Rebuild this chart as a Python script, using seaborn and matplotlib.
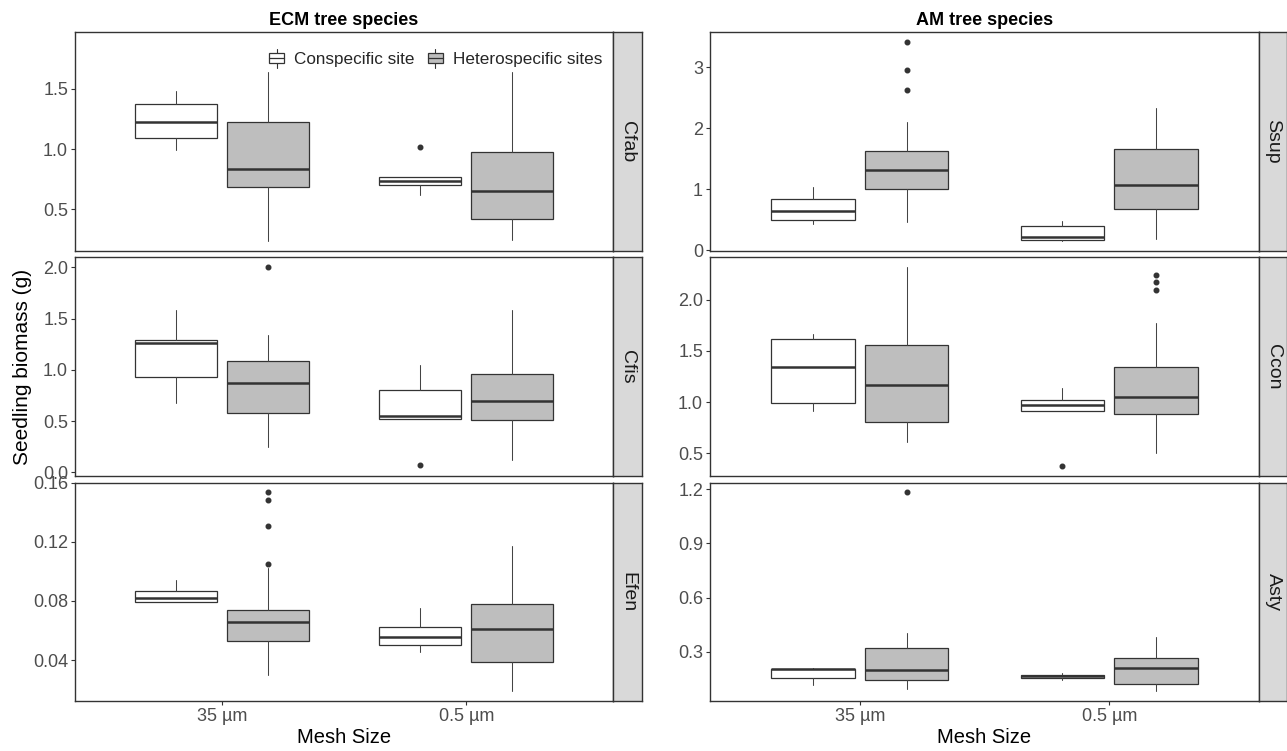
import numpy as np
import pandas as pd
import matplotlib
matplotlib.use("Agg")
import matplotlib.pyplot as plt
import seaborn as sns
from matplotlib.legend_handler import HandlerBase
from matplotlib.patches import Rectangle
from matplotlib.lines import Line2D

# ---------------- data ----------------
mesh_sizes = ["35 µm", "0.5 µm"]
site_types = ["Conspecific site", "Heterospecific sites"]
groups = ["ECM tree species", "AM tree species"]
species = [["Cfab", "Cfis", "Efen"], ["Ssup", "Ccon", "Asty"]]

# box order: Con 35, Het 35, Con 0.5, Het 0.5 ; (whislo, q1, median, q3, whishi)
cfab_stats = [(0.99, 1.095, 1.223, 1.373, 1.484), (0.238, 0.686, 0.833, 1.225, 1.643),
              (0.619, 0.702, 0.736, 0.769, 0.769), (0.243, 0.416, 0.652, 0.975, 1.643)]
cfab_fliers = [[], [], [1.017], []]
cfis_stats = [(0.676, 0.926, 1.259, 1.291, 1.586), (0.249, 0.583, 0.867, 1.084, 1.343),
              (0.521, 0.521, 0.547, 0.806, 1.049), (0.117, 0.515, 0.693, 0.964, 1.586)]
cfis_fliers = [[], [2.0], [0.068], []]
efen_stats = [(0.0793, 0.0793, 0.0823, 0.0866, 0.094), (0.0301, 0.0531, 0.0655, 0.0739, 0.1026),
              (0.0456, 0.0502, 0.0554, 0.0624, 0.0753), (0.019, 0.0384, 0.0608, 0.078, 0.1175)]
efen_fliers = [[], [0.1534, 0.1485, 0.1304, 0.1053], [], []]
ssup_stats = [(0.422, 0.494, 0.636, 0.845, 1.026), (0.455, 0.993, 1.311, 1.624, 2.101),
              (0.143, 0.165, 0.208, 0.389, 0.483), (0.187, 0.669, 1.064, 1.657, 2.326)]
ssup_fliers = [[], [3.417, 2.957, 2.622], [], []]
ccon_stats = [(0.909, 0.990, 1.338, 1.620, 1.662), (0.610, 0.805, 1.162, 1.555, 2.321),
              (0.912, 0.912, 0.971, 1.016, 1.140), (0.506, 0.886, 1.049, 1.341, 1.769)]
ccon_fliers = [[], [], [0.377], [2.240, 2.172, 2.091]]
asty_stats = [(0.119, 0.158, 0.204, 0.208, 0.213), (0.093, 0.143, 0.202, 0.322, 0.407),
              (0.147, 0.154, 0.167, 0.175, 0.186), (0.084, 0.125, 0.211, 0.267, 0.385)]
asty_fliers = [[], [1.182], [], []]

all_stats = {"Cfab": (cfab_stats, cfab_fliers), "Cfis": (cfis_stats, cfis_fliers),
             "Efen": (efen_stats, efen_fliers), "Ssup": (ssup_stats, ssup_fliers),
             "Ccon": (ccon_stats, ccon_fliers), "Asty": (asty_stats, asty_fliers)}

y_ticks = {"Cfab": [0.5, 1.0, 1.5], "Cfis": [0.0, 0.5, 1.0, 1.5, 2.0],
           "Efen": [0.04, 0.08, 0.12, 0.16], "Ssup": [0, 1, 2, 3],
           "Ccon": [0.5, 1.0, 1.5, 2.0], "Asty": [0.3, 0.6, 0.9, 1.2]}
y_fmt = {"Cfab": "{:.1f}", "Cfis": "{:.1f}", "Efen": "{:.2f}", "Ssup": "{:.0f}",
         "Ccon": "{:.1f}", "Asty": "{:.1f}"}
y_lims = {"Cfab": (0.154, 1.971), "Cfis": (-0.032, 2.097), "Efen": (0.0123, 0.160),
          "Ssup": (-0.011, 3.571), "Ccon": (0.282, 2.412), "Asty": (0.029, 1.235)}

# ---------------- style ----------------
sns.set_theme(style="white")
plt.rcParams["font.family"] = ["Liberation Sans", "DejaVu Sans"]

fill_colors = ["#FFFFFF", "#BEBEBE"]
line_col = "#333333"
tick_col = "#4D4D4D"

W, H = 1287, 751
fig = plt.figure(figsize=(W / 100, H / 100), dpi=100)

col_x = [(75, 613), (710, 1259)]
strip_w = [29, 28]
row_y = [(32.3, 250.7), (257.3, 475.7), (482.7, 701)]


def fx(px):
    return px / W


def fy(py):
    return 1 - py / H


class BoxKeyHandler(HandlerBase):
    def __init__(self, face):
        super().__init__()
        self.face = face

    def create_artists(self, legend, orig_handle, xdescent, ydescent, width, height, fontsize, trans):
        cx = width / 2 - xdescent
        bw = width * 0.85
        y0 = -ydescent
        rect = Rectangle((cx - bw / 2, y0 + height * 0.2), bw, height * 0.6,
                         facecolor=self.face, edgecolor=line_col, lw=0.9, transform=trans)
        med = Line2D([cx - bw / 2, cx + bw / 2], [y0 + height * 0.5] * 2, color=line_col, lw=0.9, transform=trans)
        w1 = Line2D([cx, cx], [y0 - height * 0.1, y0 + height * 0.2], color=line_col, lw=0.8, transform=trans)
        w2 = Line2D([cx, cx], [y0 + height * 0.8, y0 + height * 1.1], color=line_col, lw=0.8, transform=trans)
        return [w1, w2, rect, med]


offsets = [-0.1875, 0.1875]
box_w = 0.335
x_centers = [1, 2]

for ci, grp in enumerate(groups):
    x0, x1 = col_x[ci]
    for ri, sp in enumerate(species[ci]):
        y0, y1 = row_y[ri]
        ax = fig.add_axes([fx(x0), fy(y1), fx(x1 - x0), (y1 - y0) / H])
        stats, fliers = all_stats[sp]
        k = 0
        for mi, m in enumerate(mesh_sizes):
            for si, s in enumerate(site_types):
                wlo, q1, med, q3, whi = stats[k]
                st = [dict(whislo=wlo, q1=q1, med=med, q3=q3, whishi=whi, fliers=fliers[k])]
                ax.bxp(st, positions=[x_centers[mi] + offsets[si]], widths=box_w,
                       patch_artist=True, showcaps=False,
                       boxprops=dict(facecolor=fill_colors[si], edgecolor=line_col, lw=0.9),
                       whiskerprops=dict(color="#444444", lw=0.75),
                       medianprops=dict(color=line_col, lw=1.8),
                       flierprops=dict(marker="o", markersize=3.3, markerfacecolor=line_col,
                                       markeredgecolor=line_col, lw=0))
                k += 1
        ax.set_xlim(0.4, 2.6)
        ax.set_ylim(*y_lims[sp])
        ax.set_yticks(y_ticks[sp])
        ax.set_yticklabels([y_fmt[sp].format(v) for v in y_ticks[sp]])
        ax.set_xticks(x_centers)
        ax.set_facecolor("white")
        for spn in ax.spines.values():
            spn.set_color(line_col)
            spn.set_linewidth(1.0)
        ax.tick_params(axis="both", direction="out", length=3, width=0.8, color=line_col,
                       labelcolor=tick_col, labelsize=13, pad=2, left=True, bottom=(ri == 2))
        if ri == 2:
            ax.set_xticklabels(mesh_sizes)
            ax.set_xlabel("Mesh Size", fontsize=14.5, color="black", labelpad=2)
        else:
            ax.set_xticklabels([])
        if ri == 0:
            ax.set_title(grp, fontsize=13, fontweight="bold", color="black", pad=5)
        # strip
        sax = fig.add_axes([fx(x1), fy(y1), fx(strip_w[ci]), (y1 - y0) / H])
        sax.set_facecolor("#D9D9D9")
        sax.set_xticks([])
        sax.set_yticks([])
        for spn in sax.spines.values():
            spn.set_color(line_col)
            spn.set_linewidth(1.0)
        sax.text(0.5, 0.5, sp, rotation=270, ha="center", va="center", fontsize=14,
                 color="#1A1A1A", transform=sax.transAxes)
        if ci == 0 and ri == 0:
            handles = [Rectangle((0, 0), 1, 1, facecolor=c) for c in fill_colors]
            ax.legend(handles, site_types, loc="upper right", bbox_to_anchor=(1.0, 0.965),
                      ncol=2, frameon=False, fontsize=12.3, handlelength=1.0, handleheight=1.1,
                      handletextpad=0.55, columnspacing=0.7, borderaxespad=0.2,
                      handler_map={handles[0]: BoxKeyHandler(fill_colors[0]),
                                   handles[1]: BoxKeyHandler(fill_colors[1])})

fig.text(fx(22), fy((row_y[0][0] + row_y[2][1]) / 2), "Seedling biomass (g)", rotation=90,
         ha="center", va="center", fontsize=15, color="black")

fig.savefig("out.png", dpi=100)
